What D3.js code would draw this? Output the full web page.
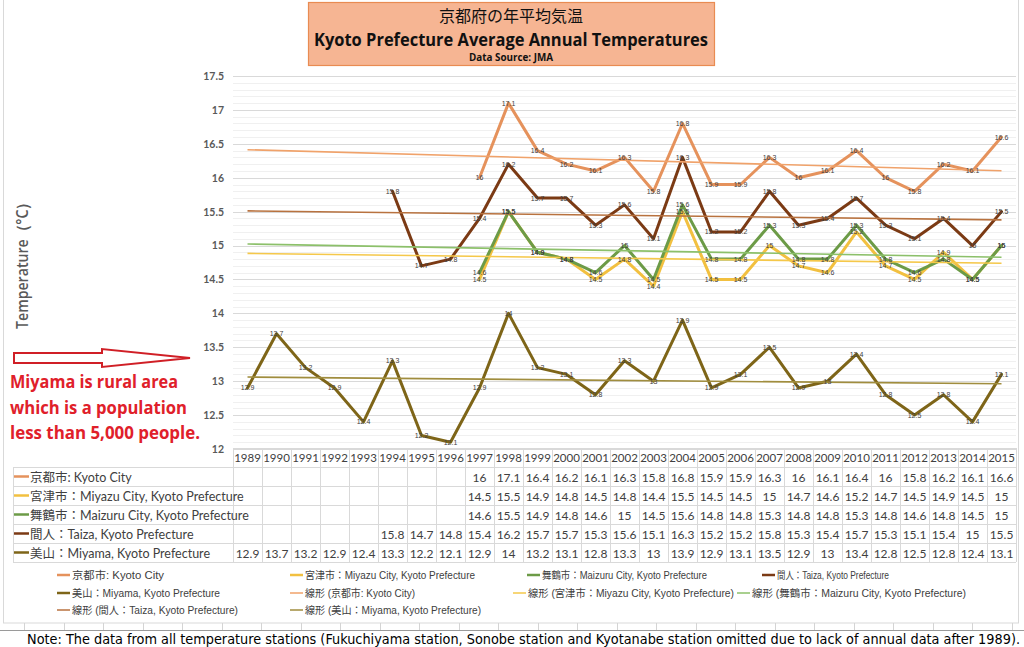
<!DOCTYPE html>
<html><head><meta charset="utf-8">
<script src="https://cdn.jsdelivr.net/npm/d3@7"></script>
<style>
html,body{margin:0;padding:0;background:#fff;}
svg{display:block;}
</style></head>
<body><svg id="c" width="1024" height="647"></svg>
<script>
// ---------- DATA ----------
const years = [1989,1990,1991,1992,1993,1994,1995,1996,1997,1998,1999,2000,2001,2002,2003,2004,2005,2006,2007,2008,2009,2010,2011,2012,2013,2014,2015];
const seriesNames = ["京都市: Kyoto City","宮津市：Miyazu City, Kyoto Prefecture","舞鶴市：Maizuru City, Kyoto Prefecture","間人：Taiza, Kyoto Prefecture","美山：Miyama, Kyoto Prefecture"];
const kyotoCity = [null,null,null,null,null,null,null,null,16,17.1,16.4,16.2,16.1,16.3,15.8,16.8,15.9,15.9,16.3,16,16.1,16.4,16,15.8,16.2,16.1,16.6];
const miyazu   = [null,null,null,null,null,null,null,null,14.5,15.5,14.9,14.8,14.5,14.8,14.4,15.5,14.5,14.5,15,14.7,14.6,15.2,14.7,14.5,14.9,14.5,15];
const maizuru  = [null,null,null,null,null,null,null,null,14.6,15.5,14.9,14.8,14.6,15,14.5,15.6,14.8,14.8,15.3,14.8,14.8,15.3,14.8,14.6,14.8,14.5,15];
const taiza    = [null,null,null,null,null,15.8,14.7,14.8,15.4,16.2,15.7,15.7,15.3,15.6,15.1,16.3,15.2,15.2,15.8,15.3,15.4,15.7,15.3,15.1,15.4,15,15.5];
const miyama   = [12.9,13.7,13.2,12.9,12.4,13.3,12.2,12.1,12.9,14,13.2,13.1,12.8,13.3,13,13.9,12.9,13.1,13.5,12.9,13,13.4,12.8,12.5,12.8,12.4,13.1];
const yTicks = [12,12.5,13,13.5,14,14.5,15,15.5,16,16.5,17,17.5];
const trendPrefix = "線形 ";

// ---------- STYLE ----------
const lineColors  = ["#E5925C","#F2C040","#6C9B47","#7B3A14","#7E6518"];
const trendColors = ["#F0A26A","#F5C84A","#8CC06A","#B8723F","#A08D3E"];
const allSeries = [kyotoCity, miyazu, maizuru, taiza, miyama];

const svg = d3.select("#c");
const W = 1024, H = 647;
const plotL = 233, plotR = 1016, plotT = 76, plotB = 449;

const x = d3.scaleBand().domain(years).range([plotL, plotR]).padding(0);
const cx = yr => x(yr) + x.bandwidth()/2;
const y = d3.scaleLinear().domain([12,17.5]).range([plotB, plotT]);

// chart outer border
svg.append("rect").attr("x",3.5).attr("y",-1).attr("width",1015).attr("height",624)
  .attr("fill","none").attr("stroke","#D9D9D9");

// minor gridlines
const minor = d3.range(0,56).map(i => +(12 + i*0.1).toFixed(1)).filter(v => Math.round(v*10)%5 !== 0);
svg.append("g").selectAll("line").data(minor).join("line")
  .attr("x1",plotL).attr("x2",plotR).attr("y1",d=>Math.round(y(d))+0.5).attr("y2",d=>Math.round(y(d))+0.5)
  .attr("stroke","#F0F0F0").attr("stroke-width",1);
svg.append("g").selectAll("line").data(yTicks).join("line")
  .attr("x1",plotL).attr("x2",plotR).attr("y1",d=>Math.round(y(d))+0.5).attr("y2",d=>Math.round(y(d))+0.5)
  .attr("stroke","#D9D9D9").attr("stroke-width",1);

// y axis
const yAxis = svg.append("g").attr("transform",`translate(${plotL},0)`)
  .call(d3.axisLeft(y).tickValues(yTicks).tickSize(0).tickPadding(9).tickFormat(d=>String(d)));
yAxis.select(".domain").remove();
yAxis.selectAll("text").attr("font-family","Lato, 'Open Sans', sans-serif").attr("font-size",10.5)
  .attr("font-weight","bold").attr("fill","#595959");

// y axis title
svg.append("text").attr("transform","translate(28,262) rotate(-90)").attr("text-anchor","middle")
  .attr("font-family","'Open Sans',sans-serif").attr("font-size",15.5).attr("font-weight",600)
  .attr("fill","#595959").attr("textLength",134).attr("lengthAdjust","spacingAndGlyphs").text("Temperature（°C）");

// lines
const line = d3.line().defined(d => d.v != null).x(d => cx(d.yr)).y(d => y(d.v));
const gLines = svg.append("g");
allSeries.forEach((s,i) => {
  const pts = years.map((yr,j)=>({yr, v:s[j]}));
  gLines.append("path").datum(pts).attr("d",line).attr("fill","none")
    .attr("stroke",lineColors[i]).attr("stroke-width",3).attr("stroke-linejoin","round").attr("stroke-linecap","round");
});

// trendlines (least squares over available points, spanning the category range)
allSeries.forEach((s,i) => {
  const pts = years.map((yr,j)=>({xv:j, v:s[j]})).filter(d=>d.v!=null);
  const mx = d3.mean(pts,d=>d.xv), my = d3.mean(pts,d=>d.v);
  const b = d3.sum(pts,d=>(d.xv-mx)*(d.v-my)) / d3.sum(pts,d=>(d.xv-mx)**2);
  const a = my - b*mx;
  const n = years.length-1;
  svg.append("line").attr("x1",cx(years[0])).attr("x2",cx(years[n]))
    .attr("y1",y(a)).attr("y2",y(a+b*n))
    .attr("stroke",trendColors[i]).attr("stroke-width",1.6);
});

// data labels
const gLab = svg.append("g").attr("font-family","'Liberation Sans',sans-serif")
  .attr("font-size",7).attr("fill","#404040").attr("text-anchor","middle");
allSeries.forEach((s,i) => {
  years.forEach((yr,j) => {
    if (s[j]==null) return;
    gLab.append("text").attr("x",cx(yr)).attr("y",y(s[j])+2.5).text(String(s[j]));
  });
});

// ---------- DATA TABLE ----------
const rowH = 19, headTop = 448, tableL = 13;
const tbl = svg.append("g");
const gridC = "#D9D9D9";
tbl.selectAll(".yh").data(years).join("text")
  .attr("x",d=>cx(d)).attr("y",headTop+14).attr("text-anchor","middle")
  .attr("font-family","Lato, sans-serif").attr("font-size",11.5).attr("fill","#404040").text(d=>d);
const hLines = d3.range(0,7).map(i => headTop + i*rowH);
tbl.selectAll(".hl").data(hLines).join("line")
  .attr("x1",(d,i)=> i===0 ? plotL : tableL).attr("x2",plotR)
  .attr("y1",d=>d+0.5).attr("y2",d=>d+0.5).attr("stroke",gridC);
const vx = years.map(yr=>x(yr)).concat([plotR]);
tbl.selectAll(".vl").data(vx).join("line")
  .attr("x1",d=>Math.round(d)+0.5).attr("x2",d=>Math.round(d)+0.5)
  .attr("y1",headTop).attr("y2",headTop+6*rowH).attr("stroke",gridC);
tbl.append("line").attr("x1",tableL+0.5).attr("x2",tableL+0.5).attr("y1",headTop+rowH).attr("y2",headTop+6*rowH).attr("stroke",gridC);
allSeries.forEach((s,i) => {
  const ry = headTop + (i+1)*rowH;
  tbl.append("line").attr("x1",tableL+1).attr("x2",tableL+16).attr("y1",ry+rowH/2).attr("y2",ry+rowH/2)
    .attr("stroke",lineColors[i]).attr("stroke-width",2.5);
  tbl.append("text").attr("x",tableL+17).attr("y",ry+14.5)
    .attr("font-family","Lato, 'Noto Sans CJK JP', sans-serif").attr("font-size",12.5).attr("fill","#404040")
    .text(seriesNames[i]);
  tbl.selectAll(null).data(years.map((yr,j)=>({yr,v:s[j]})).filter(d=>d.v!=null)).join("text")
    .attr("x",d=>cx(d.yr)).attr("y",ry+14.5).attr("text-anchor","middle")
    .attr("font-family","Lato, sans-serif").attr("font-size",12).attr("fill","#404040").text(d=>String(d.v));
});

// ---------- LEGEND ----------
const legItems = [
  {t:seriesNames[0], c:lineColors[0], w:2.5, x:57, y:575, len:92},
  {t:seriesNames[1], c:lineColors[1], w:2.5, x:290, y:575, len:170},
  {t:seriesNames[2], c:lineColors[2], w:2.5, x:527, y:575, len:165},
  {t:seriesNames[3], c:lineColors[3], w:2.5, x:762, y:575, len:112},
  {t:seriesNames[4], c:lineColors[4], w:2.5, x:57, y:593, len:148},
  {t:trendPrefix+"("+seriesNames[0]+")", c:trendColors[0], w:1.5, x:290, y:593, len:110},
  {t:trendPrefix+"("+seriesNames[1]+")", c:trendColors[1], w:1.5, x:513, y:593, len:206},
  {t:trendPrefix+"("+seriesNames[2]+")", c:trendColors[2], w:1.5, x:737, y:593, len:214},
  {t:trendPrefix+"("+seriesNames[3]+")", c:trendColors[3], w:1.5, x:57, y:610, len:166},
  {t:trendPrefix+"("+seriesNames[4]+")", c:trendColors[4], w:1.5, x:290, y:610, len:176}
];
const lg = svg.append("g").attr("font-family","'Liberation Sans','Noto Sans CJK JP',sans-serif")
  .attr("font-size",10.5).attr("fill","#404040");
legItems.forEach(d => {
  lg.append("line").attr("x1",d.x).attr("x2",d.x+13).attr("y1",d.y).attr("y2",d.y).attr("stroke",d.c).attr("stroke-width",d.w);
  lg.append("text").attr("x",d.x+15).attr("y",d.y+4).attr("textLength",d.len).attr("lengthAdjust","spacingAndGlyphs").text(d.t);
});

// ---------- TITLE ----------
svg.append("rect").attr("x",308.5).attr("y",2.5).attr("width",406).attr("height",63)
  .attr("fill","#F6B593").attr("stroke","#E98B52").attr("stroke-width",1.2);
svg.append("text").attr("x",511).attr("y",22).attr("text-anchor","middle")
  .attr("font-family","'Noto Sans CJK JP',sans-serif").attr("font-size",16).attr("fill","#111")
  .text("京都府の年平均気温");
svg.append("text").attr("x",511).attr("y",46).attr("text-anchor","middle")
  .attr("font-family","'Open Sans',sans-serif").attr("font-size",18).attr("font-weight","bold").attr("fill","#111")
  .attr("textLength",394).attr("lengthAdjust","spacingAndGlyphs")
  .text("Kyoto Prefecture Average Annual Temperatures");
svg.append("text").attr("x",511).attr("y",61).attr("text-anchor","middle")
  .attr("font-family","'Open Sans',sans-serif").attr("font-size",10).attr("font-weight","bold").attr("fill","#111")
  .attr("textLength",84).attr("lengthAdjust","spacingAndGlyphs")
  .text("Data Source: JMA");

// ---------- ANNOTATION ----------
svg.append("path")
  .attr("d","M14,353 L102,353 L102,349 L190,358 L102,367 L102,363 L14,363 Z")
  .attr("fill","#fff").attr("stroke","#D01F26").attr("stroke-width",2);
const ann = ["Miyama is rural area","which is a population","less than 5,000 people."];
const annW = [168,177,190];
svg.append("g").selectAll("text").data(ann).join("text")
  .attr("x",10).attr("y",(d,i)=>388+i*25.5)
  .attr("font-family","'Open Sans',sans-serif").attr("font-size",17).attr("font-weight","bold")
  .attr("fill","#E0202A").attr("textLength",(d,i)=>annW[i]).attr("lengthAdjust","spacingAndGlyphs").text(d=>d);

// ---------- SHEET GRID & NOTE ----------
const sheetV = d3.range(0,26).map(k => 24 + k*39.5);
svg.append("g").selectAll("line").data(sheetV).join("line")
  .attr("x1",d=>Math.round(d)+0.5).attr("x2",d=>Math.round(d)+0.5).attr("y1",623).attr("y2",630)
  .attr("stroke","#D4D4D4");
svg.append("line").attr("x1",0).attr("x2",W).attr("y1",630.5).attr("y2",630.5).attr("stroke","#9A9A9A");
svg.append("text").attr("x",27).attr("y",644)
  .attr("font-family","'DejaVu Sans Condensed','DejaVu Sans',sans-serif").attr("font-size",14).attr("fill","#000")
  .attr("textLength",993).attr("lengthAdjust","spacingAndGlyphs")
  .text("Note: The data from all temperature stations (Fukuchiyama station, Sonobe station and Kyotanabe station omitted due to lack of annual data after 1989).");
</script>
</body></html>
